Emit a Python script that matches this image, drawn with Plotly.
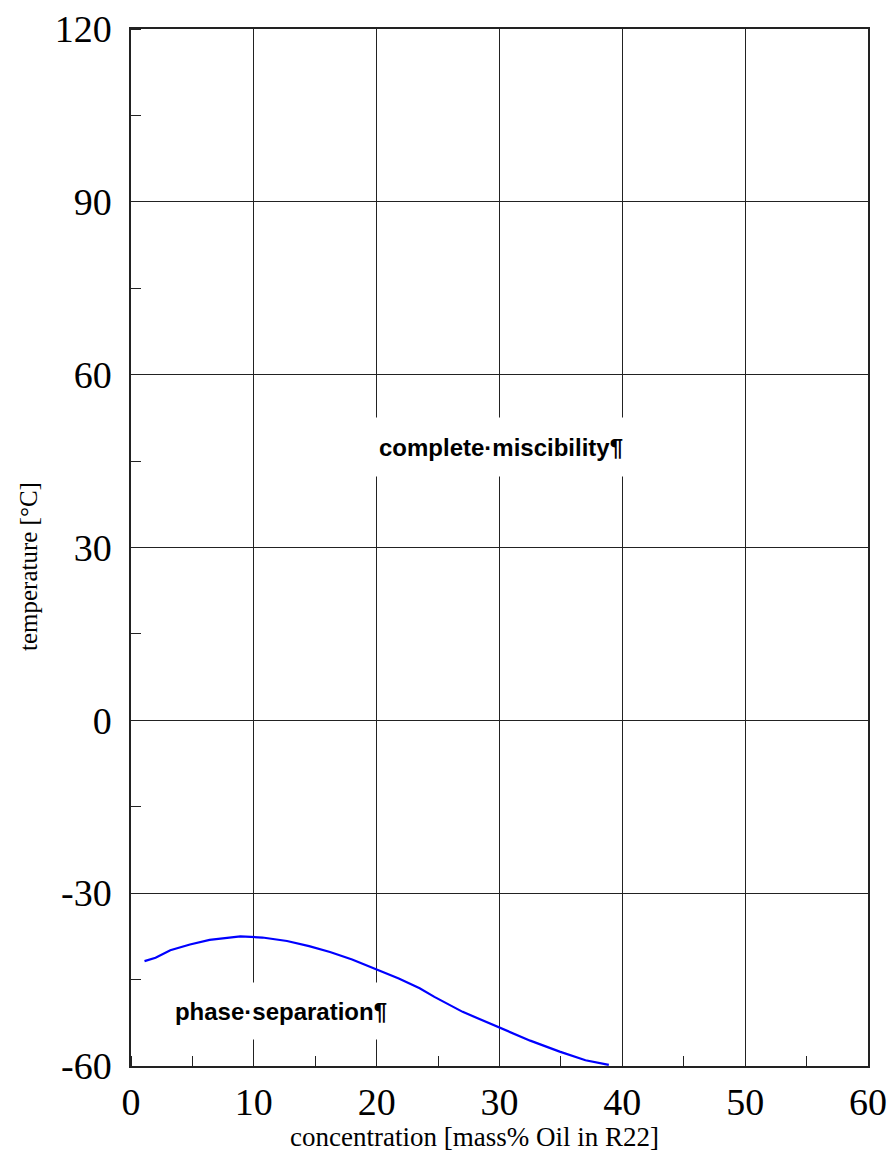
import plotly.graph_objects as go

# Miscibility boundary of the oil / R22 mixture
concentration = [1.1, 2.0, 3.2, 4.8, 6.4, 8.9, 10.7, 12.7, 14.5, 16.2, 18.0, 20.0, 21.8, 23.5, 24.7, 27.0, 30.0, 32.5, 34.9, 37.0, 38.9]
temperature = [-41.8, -41.2, -39.9, -38.9, -38.1, -37.5, -37.7, -38.3, -39.2, -40.2, -41.5, -43.2, -44.8, -46.5, -48.0, -50.6, -53.4, -55.6, -57.5, -59.0, -59.8]

x_ticks = [0, 10, 20, 30, 40, 50, 60]
y_ticks = [-60, -30, 0, 30, 60, 90, 120]

serif = "Liberation Serif, Times New Roman, serif"
sans = "Liberation Sans, Arial, sans-serif"

fig = go.Figure()
fig.add_trace(go.Scatter(
    x=concentration, y=temperature, mode="lines",
    line=dict(color="#0000FF", width=2.2),
    showlegend=False,
))

axis_common = dict(
    showline=True, linecolor="#222222", linewidth=1.5, mirror=True,
    showgrid=True, gridcolor="#222222", gridwidth=1,
    ticks="", zeroline=False, automargin=False,
    tickfont=dict(family=serif, size=38, color="black"),
)

fig.update_xaxes(
    range=[0, 60], tickvals=x_ticks, ticktext=[str(v) for v in x_ticks],
    minor=dict(ticks="inside", dtick=5, ticklen=10, tickcolor="#222222", showgrid=False),
    ticklabelstandoff=2,
    **axis_common,
)
fig.update_yaxes(
    range=[-60, 120], tickvals=y_ticks, ticktext=[str(v) for v in y_ticks],
    minor=dict(ticks="inside", dtick=15, ticklen=10, tickcolor="#222222", showgrid=False),
    ticklabelstandoff=10,
    **axis_common,
)

title_font = dict(family=serif, size=27, color="black")
fig.add_annotation(
    xref="paper", yref="paper", x=(474 - 131) / 737, y=-(1137 - 1066) / 1037,
    text="concentration [mass% Oil in R22]", showarrow=False, font=title_font,
    xanchor="center", yanchor="middle",
)
fig.add_annotation(
    xref="paper", yref="paper", x=-(131 - 28) / 737, y=(1066 - 567) / 1037,
    text="temperature [°C]", showarrow=False, font=dict(family=serif, size=25, color="black"),
    textangle=-90, xanchor="center", yanchor="middle",
)

label_font = dict(family=sans, size=24, color="black", weight="bold")
fig.add_annotation(
    x=30.1, y=47.4, text="complete·miscibility¶", showarrow=False,
    font=label_font, bgcolor="white", width=266, height=56,
)
fig.add_annotation(
    x=12.2, y=-50.5, text="phase·separation¶", showarrow=False,
    font=label_font, bgcolor="white", width=226, height=54,
)

fig.update_layout(
    width=889, height=1155,
    margin=dict(l=131, r=21, t=29, b=89),
    paper_bgcolor="white", plot_bgcolor="white",
)

fig.write_html("out.html")
